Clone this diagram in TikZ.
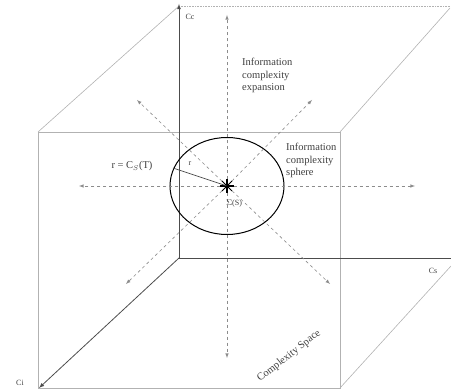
\documentclass[tikz,border=0pt]{standalone}
\usepackage{fontspec}
\setmainfont{Liberation Serif}
\begin{document}
\begin{tikzpicture}[
    x=1pt, y=-1pt,
    edge/.style={draw=black!30, line width=0.6pt},
    backedge/.style={draw=black!30, line width=0.6pt, densely dotted},
    axis/.style={draw=black!70, line width=0.8pt},
    ray/.style={draw=black!45, dashed, line width=0.6pt, -latex},
    txt/.style={font=\fontsize{10.5}{12.5}\selectfont, align=left, inner sep=0pt, text=black!75},
    small/.style={font=\fontsize{8}{9}\selectfont, inner sep=0pt, text=black!75}
]
\useasboundingbox (0,0) rectangle (451,390);

% === Cube of the complexity space ===
\coordinate (f1) at (38,132);
\coordinate (f2) at (340,132);
\coordinate (f3) at (340,388);
\coordinate (f4) at (38,388);
\coordinate (o) at (179,258);
\coordinate (b1) at (179,6);
\coordinate (b2) at (451,6);
\coordinate (b3) at (450,8);
\coordinate (b4) at (451,266);

\draw[edge] (f1) -- (f2) -- (f3) -- (f4) -- cycle;
\draw[edge] (f1) -- (b1);
\draw[edge] (f2) -- (b3);
\draw[edge] (f3) -- (b4);
\draw[backedge] (b1) -- (b2);

% === Axes ===
\coordinate (cc) at (179,4);
\coordinate (cs) at (451,258);
\coordinate (ci) at (39,388);
\draw[axis, -latex] (o) -- (cc);
\draw[axis] (o) -- (cs);
\draw[axis, -latex] (o) -- (ci);
\node[small] (lcc) at (190,17) {Cc};
\node[small] (lcs) at (433,271) {Cs};
\node[small] (lci) at (20,383) {Ci};

% === Sphere and expansion rays ===
\node[inner sep=0pt] (c) at (227,186) {};
\draw[line width=1pt] (c) ellipse [x radius=57pt, y radius=48.5pt];

\coordinate (u) at (227,15);
\coordinate (d) at (227,358);
\coordinate (l) at (79,186);
\coordinate (r) at (415,186);
\coordinate (ul) at (137,100);
\coordinate (ur) at (312,100);
\coordinate (dl) at (126,284);
\coordinate (dr) at (330,284);
\foreach \p in {u,d,l,r,ul,ur,dl,dr}
    \draw[ray] (c) -- (\p);

% centre mark
\draw[line width=1.3pt] (220,186) -- (234,186) (227,179) -- (227,193);
\draw[line width=0.9pt] (222,181) -- (232,191) (222,191) -- (232,181);

% radius
\coordinate (rp) at (173,168);
\draw[line width=0.7pt, draw=black!70] (c) -- (rp);
\node[small] (lr) at (190,164) {r};

% === Labels ===
\node[txt, anchor=north west] (exp) at (242,58) {Information\\complexity\\expansion};
\node[txt, anchor=north west] (sph) at (286,143) {Information\\complexity\\sphere};
\node[txt] (rad) at (132,166) {r = C$_S$(T)};
\node[small] (sig) at (234,204) {$\Sigma$(S)};
\node[txt, rotate=38] (space) at (289,356) {Complexity Space};

\end{tikzpicture}
\end{document}
